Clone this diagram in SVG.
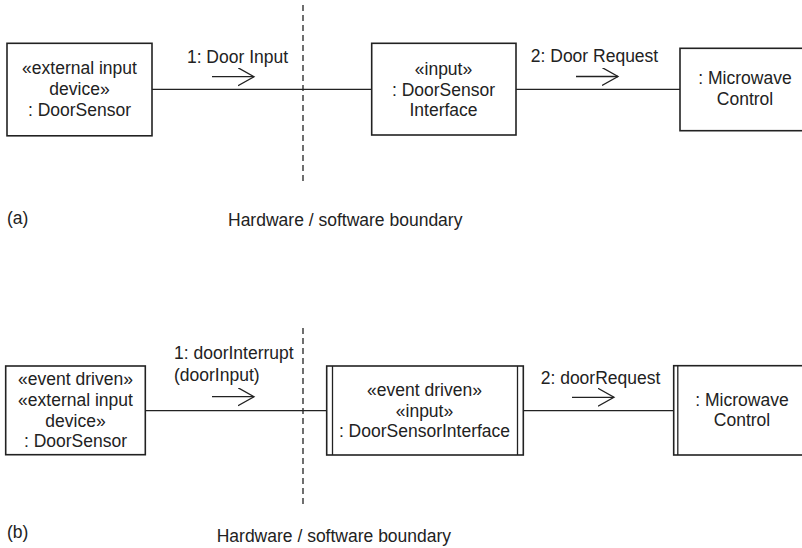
<svg xmlns="http://www.w3.org/2000/svg" width="802" height="548" viewBox="0 0 802 548">
<defs>
<style>
text{font-family:"Liberation Sans",Arial,sans-serif;font-size:17.5px;fill:#222;}
.c{text-anchor:middle;}
.box{fill:#fff;stroke:#222;stroke-width:1.6;}
.ln{stroke:#222;stroke-width:1.3;fill:none;}
.dash{stroke:#222;stroke-width:1.3;stroke-dasharray:6,4;fill:none;}
.arr{stroke:#222;stroke-width:1.3;fill:none;}
</style>
<marker id="open" markerWidth="18" markerHeight="20" refX="16" refY="9" orient="auto" markerUnits="userSpaceOnUse">
<path d="M0,0 L16,9 L0,18" fill="none" stroke="#222" stroke-width="1.3"/>
</marker>
</defs>
<rect width="802" height="548" fill="#fff"/>

<g id="connectors">
<line class="ln" x1="152" y1="89.3" x2="372" y2="89.3"/>
<line class="ln" x1="516" y1="89.3" x2="680" y2="89.3"/>
<line class="ln" x1="145" y1="410.7" x2="327" y2="410.7"/>
<line class="ln" x1="523" y1="410.7" x2="674" y2="410.7"/>
<line class="arr" x1="212" y1="76.7" x2="254" y2="76.7" marker-end="url(#open)"/>
<line class="arr" x1="576" y1="76.5" x2="618" y2="76.5" marker-end="url(#open)"/>
<line class="arr" x1="212" y1="396.7" x2="254" y2="396.7" marker-end="url(#open)"/>
<line class="arr" x1="572" y1="397.3" x2="614" y2="397.3" marker-end="url(#open)"/>
<text class="c" x="237.5" y="63">1: Door Input</text>
<text class="c" x="594.5" y="62">2: Door Request</text>
<text x="174" y="359">1: doorInterrupt</text>
<text x="174" y="381">(doorInput)</text>
<text x="540.7" y="384">2: doorRequest</text>
</g>

<g id="boundary-a">
<line class="dash" x1="303" y1="5" x2="303" y2="184"/>
<text x="228" y="226">Hardware / software boundary</text>
</g>
<g id="boundary-b">
<line class="dash" x1="303" y1="328" x2="303" y2="506"/>
<text x="216.7" y="542">Hardware / software boundary</text>
</g>

<g id="label-a"><text x="7" y="224">(a)</text></g>
<g id="label-b"><text x="7" y="538">(b)</text></g>

<g id="a-doorsensor">
<rect class="box" x="7" y="43.3" width="145" height="92.5"/>
<text class="c" x="79.5" y="74">«external input</text>
<text class="c" x="79.5" y="95">device»</text>
<text class="c" x="79.5" y="116">: DoorSensor</text>
</g>

<g id="a-doorsensorinterface">
<rect class="box" x="371.7" y="43.3" width="144.3" height="91.7"/>
<text class="c" x="443.5" y="75">«input»</text>
<text class="c" x="443.5" y="96">: DoorSensor</text>
<text class="c" x="443.5" y="116">Interface</text>
</g>

<g id="a-microwavecontrol">
<rect class="box" x="680" y="48.3" width="140" height="82.4"/>
<text class="c" x="745" y="84">: Microwave</text>
<text class="c" x="745" y="105">Control</text>
</g>

<g id="b-doorsensor">
<rect class="box" x="5.7" y="366" width="139.6" height="88.7"/>
<text class="c" x="75.5" y="385">«event driven»</text>
<text class="c" x="75.5" y="406">«external input</text>
<text class="c" x="75.5" y="427">device»</text>
<text class="c" x="75.5" y="447">: DoorSensor</text>
</g>

<g id="b-doorsensorinterface">
<rect class="box" x="326.7" y="366" width="196.6" height="89"/>
<line class="ln" x1="332.5" y1="366" x2="332.5" y2="455"/>
<line class="ln" x1="517.5" y1="366" x2="517.5" y2="455"/>
<text class="c" x="424.5" y="396">«event driven»</text>
<text class="c" x="424.5" y="417">«input»</text>
<text class="c" x="424.5" y="437">: DoorSensorInterface</text>
</g>

<g id="b-microwavecontrol">
<rect class="box" x="673.7" y="365.7" width="150" height="89.3"/>
<line class="ln" x1="677.8" y1="365.7" x2="677.8" y2="455"/>
<text class="c" x="742" y="406">: Microwave</text>
<text class="c" x="742" y="426">Control</text>
</g>
</svg>
